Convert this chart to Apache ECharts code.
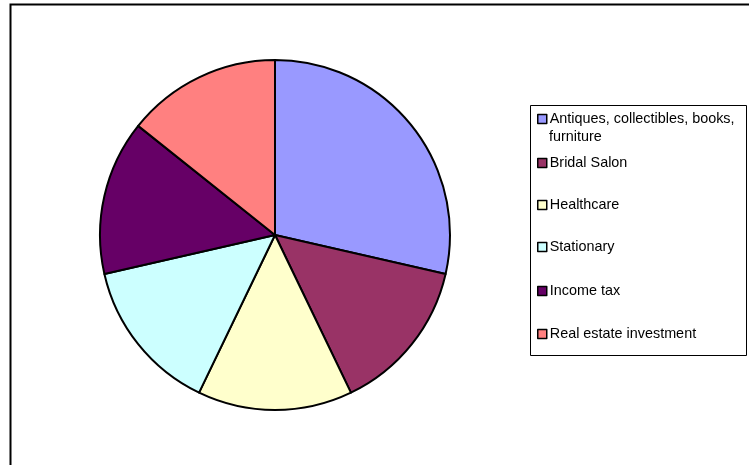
<!DOCTYPE html>
<html><head><meta charset="utf-8">
<script src="https://cdn.jsdelivr.net/npm/echarts@6/dist/echarts.min.js"></script>
<style>html,body{margin:0;padding:0;background:#fff}#c{width:749px;height:465px}</style>
</head><body><div id="c"></div>
<script>
const categories = ["Antiques, collectibles, books, furniture","Bridal Salon","Healthcare","Stationary","Income tax","Real estate investment"];
const values = [2,1,1,1,1,1];
const colors = ["#9999FF","#993366","#FFFFCC","#CCFFFF","#660066","#FF8080"];
const legendCenters = [118,162,204,246,290,333];

const chart = echarts.init(document.getElementById('c'));
const legends = categories.map((name,i)=>({
  orient:'vertical', left:537, top: legendCenters[i]-8,
  data:[name], itemWidth:9, itemHeight:9, itemGap:0, padding:0,
  icon:'rect', selectedMode:false,
  itemStyle:{borderColor:'#000',borderWidth:1.5},
  formatter: i===0 ? ()=>'Antiques, collectibles, books,' : undefined,
  textStyle:{fontFamily:'Liberation Sans, Arial',fontSize:14.4,color:'#000',lineHeight:18,padding:[0,0,0,-2]}
}));
chart.setOption({
  animation:false,
  color:colors,
  graphic:[
    {type:'rect',shape:{x:10.5,y:4.5,width:800,height:500},style:{fill:'none',stroke:'#000',lineWidth:2}},
    {type:'rect',shape:{x:530.5,y:105.5,width:216,height:250},style:{fill:'#fff',stroke:'#000',lineWidth:1},z:-1},
    {type:'text',x:549,y:137,style:{text:'furniture',font:'14.4px "Liberation Sans", Arial',fill:'#000',verticalAlign:'middle'}}
  ],
  legend:legends,
  series:[{
    type:'pie', center:[275,235], radius:175, startAngle:90, clockwise:true,
    label:{show:false}, labelLine:{show:false}, silent:true,
    itemStyle:{borderColor:'#000',borderWidth:2},
    data:categories.map((n,i)=>({name:n,value:values[i]}))
  }]
});
</script></body></html>
